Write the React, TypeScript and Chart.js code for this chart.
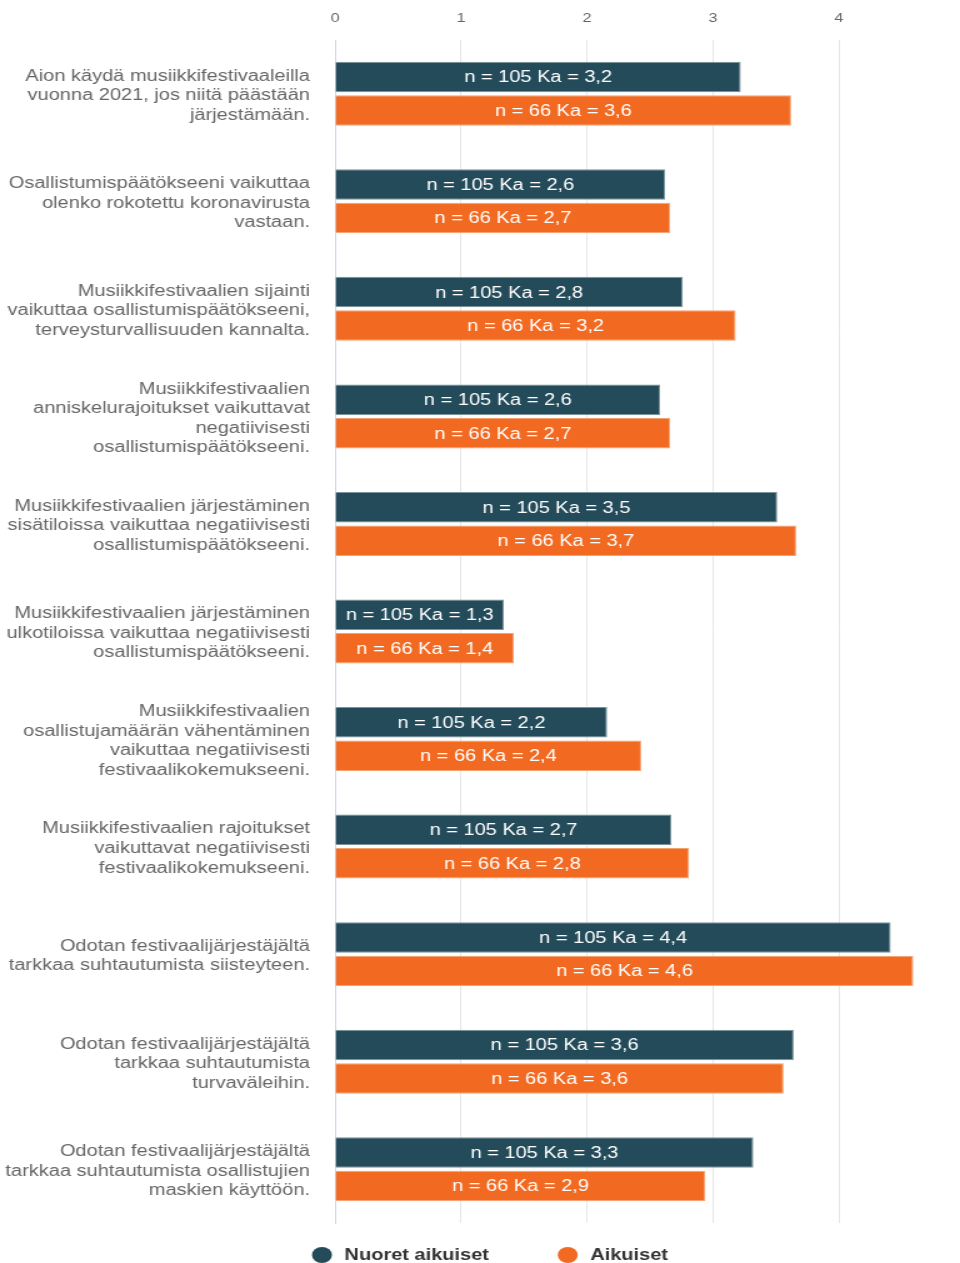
import React, { useEffect, useRef } from 'react';
import { Chart, registerables } from 'chart.js';

Chart.register(...registerables);

// ---------- data ----------
const categories: string[][] = [
  ['Aion käydä musiikkifestivaaleilla', 'vuonna 2021, jos niitä päästään', 'järjestämään.'],
  ['Osallistumispäätökseeni vaikuttaa', 'olenko rokotettu koronavirusta', 'vastaan.'],
  ['Musiikkifestivaalien sijainti', 'vaikuttaa osallistumispäätökseeni,', 'terveysturvallisuuden kannalta.'],
  ['Musiikkifestivaalien', 'anniskelurajoitukset vaikuttavat', 'negatiivisesti', 'osallistumispäätökseeni.'],
  ['Musiikkifestivaalien järjestäminen', 'sisätiloissa vaikuttaa negatiivisesti', 'osallistumispäätökseeni.'],
  ['Musiikkifestivaalien järjestäminen', 'ulkotiloissa vaikuttaa negatiivisesti', 'osallistumispäätökseeni.'],
  ['Musiikkifestivaalien', 'osallistujamäärän vähentäminen', 'vaikuttaa negatiivisesti', 'festivaalikokemukseeni.'],
  ['Musiikkifestivaalien rajoitukset', 'vaikuttavat negatiivisesti', 'festivaalikokemukseeni.'],
  ['Odotan festivaalijärjestäjältä', 'tarkkaa suhtautumista siisteyteen.'],
  ['Odotan festivaalijärjestäjältä', 'tarkkaa suhtautumista', 'turvaväleihin.'],
  ['Odotan festivaalijärjestäjältä', 'tarkkaa suhtautumista osallistujien', 'maskien käyttöön.'],
];

const youngValues = [3.22, 2.62, 2.76, 2.58, 3.51, 1.34, 2.16, 2.67, 4.41, 3.64, 3.32];
const adultValues = [3.62, 2.66, 3.18, 2.66, 3.66, 1.42, 2.43, 2.81, 4.59, 3.56, 2.94];

const seriesNames = ['Nuoret aikuiset', 'Aikuiset'];
const sampleSizes = [105, 66];
const seriesColors = ['#244b5a', '#f26a21'];
const seriesBorders = ['#7a939c', '#f6a070'];

const xMin = 0;
const xMax = 5;
const xStep = 1;

// ---------- rendering constants ----------
const FONT = '"Liberation Sans", Arial, Helvetica, sans-serif';
const W = 784;
const H = 1263;
const SX = 1.25;

const barLabelPlugin = {
  id: 'barLabels',
  afterDatasetsDraw(chart: any) {
    const ctx = chart.ctx;
    ctx.save();
    ctx.font = `16px ${FONT}`;
    ctx.fillStyle = '#ffffff';
    ctx.textAlign = 'center';
    ctx.textBaseline = 'middle';
    chart.data.datasets.forEach((ds: any, di: number) => {
      const meta = chart.getDatasetMeta(di);
      meta.data.forEach((bar: any, i: number) => {
        const v = ds.data[i] as number;
        const txt = `n = ${sampleSizes[di]} Ka = ${v.toFixed(1).replace('.', ',')}`;
        ctx.fillText(txt, (bar.x + bar.base) / 2, bar.y + 1);
      });
    });
    ctx.restore();
  },
};

const legendPlugin = {
  id: 'bottomLegend',
  afterDraw(chart: any) {
    const ctx = chart.ctx;
    ctx.save();
    ctx.font = `bold 16px ${FONT}`;
    const r = 8;
    const gapText = 10;
    const gapItem = 55;
    const items = chart.data.datasets.map((ds: any) => ({
      text: ds.label as string,
      color: ds.backgroundColor as string,
      w: ctx.measureText(ds.label).width as number,
    }));
    const total =
      items.reduce((s: number, it: any) => s + 2 * r + gapText + it.w, 0) + gapItem * (items.length - 1);
    let x = (chart.width - total) / 2;
    const y = chart.chartArea.bottom + 32;
    ctx.textBaseline = 'middle';
    ctx.textAlign = 'left';
    items.forEach((it: any) => {
      ctx.beginPath();
      ctx.fillStyle = it.color;
      ctx.arc(x + r, y, r, 0, Math.PI * 2);
      ctx.fill();
      ctx.fillStyle = '#333333';
      ctx.fillText(it.text, x + 2 * r + gapText, y + 1);
      x += 2 * r + gapText + it.w + gapItem;
    });
    ctx.restore();
  },
};

export default function App() {
  const canvasRef = useRef<HTMLCanvasElement | null>(null);

  useEffect(() => {
    if (!canvasRef.current) return;
    Chart.defaults.font.family = FONT;
    const chart = new Chart(canvasRef.current, {
      type: 'bar',
      data: {
        labels: categories,
        datasets: [
          {
            label: seriesNames[0],
            data: youngValues,
            backgroundColor: seriesColors[0],
            borderColor: seriesBorders[0],
            borderWidth: 1,
            borderSkipped: 'start',
            barPercentage: 0.91,
            categoryPercentage: 0.623,
          },
          {
            label: seriesNames[1],
            data: adultValues,
            backgroundColor: seriesColors[1],
            borderColor: seriesBorders[1],
            borderWidth: 1,
            borderSkipped: 'start',
            barPercentage: 0.91,
            categoryPercentage: 0.623,
          },
        ],
      },
      options: {
        indexAxis: 'y',
        responsive: false,
        maintainAspectRatio: false,
        animation: false,
        layout: { padding: { left: 0, right: 12, top: 0, bottom: 40 } },
        plugins: {
          legend: { display: false },
          tooltip: { enabled: false },
          title: { display: false },
        },
        scales: {
          x: {
            position: 'top',
            min: xMin,
            max: xMax,
            ticks: {
              stepSize: xStep,
              padding: 14,
              color: '#666666',
              font: { size: 13, family: FONT },
            },
            grid: { color: '#e6e6e6', lineWidth: 1, drawTicks: false },
            border: { display: false },
            afterFit: (scale: any) => {
              scale.height = 40;
              scale.paddingLeft = 0;
              scale.paddingRight = 0;
            },
          },
          y: {
            position: 'left',
            ticks: {
              padding: 20,
              labelOffset: 2,
              color: '#666666',
              font: { size: 16, family: FONT, lineHeight: 1.22 },
              autoSkip: false,
            },
            grid: { display: false, drawTicks: false },
            border: { display: true, color: '#ccd6eb', width: 1 },
            afterFit: (scale: any) => {
              scale.width = 268;
              scale.paddingTop = 0;
              scale.paddingBottom = 0;
            },
          },
        },
      },
      plugins: [barLabelPlugin, legendPlugin],
    });
    return () => chart.destroy();
  }, []);

  return (
    <div
      style={{
        position: 'absolute',
        left: 0,
        top: 0,
        width: 960,
        height: H,
        overflow: 'hidden',
        background: '#ffffff',
      }}
    >
      <div
        style={{
          width: W,
          height: H,
          transform: `scaleX(${SX})`,
          transformOrigin: '0 0',
        }}
      >
        <canvas ref={canvasRef} width={W} height={H} style={{ display: 'block' }} />
      </div>
    </div>
  );
}
